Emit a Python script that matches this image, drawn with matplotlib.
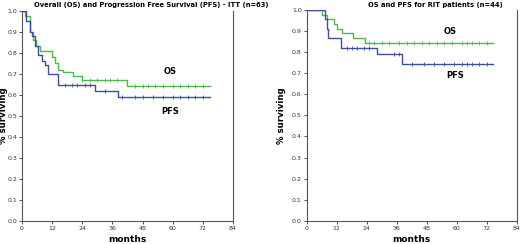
# km_panels.py
# Kaplan-Meier style step curves, OS vs PFS, two cohorts side by side

import numpy as np
import matplotlib.pyplot as plt

# --- ITT cohort (n=63) ---
itt_os_t = [0, 1.2, 3.2, 4.5, 5.5, 7.2, 12, 13, 14.3, 16.3, 20.3, 23.9, 41.8, 74.8]
itt_os_s = [1.0, 0.975, 0.90, 0.86, 0.83, 0.81, 0.78, 0.75, 0.72, 0.71, 0.69, 0.67, 0.64, 0.64]
itt_pfs_t = [0, 1.5, 3.0, 4.0, 5.2, 6.4, 8.0, 9.2, 10.4, 14.3, 29.0, 38.2, 74.8]
itt_pfs_s = [1.0, 0.95, 0.90, 0.88, 0.83, 0.79, 0.76, 0.74, 0.70, 0.645, 0.62, 0.59, 0.59]
itt_os_cens = [24, 27, 30, 33, 35, 38, 45, 48, 50, 53, 56, 60, 63, 66, 69, 72]
itt_pfs_cens = [17, 20, 22, 25, 27, 33, 40, 45, 48, 52, 56, 60, 63, 66, 69, 72]

# --- RIT cohort (n=44) ---
rit_os_t = [0, 6.0, 8.0, 11.0, 12.0, 14.0, 18.6, 23.3, 74.5]
rit_os_s = [1.0, 0.977, 0.955, 0.93, 0.91, 0.89, 0.865, 0.84, 0.84]
rit_pfs_t = [0, 7.3, 8.0, 8.6, 13.6, 28.0, 38.0, 74.5]
rit_pfs_s = [1.0, 0.955, 0.91, 0.865, 0.82, 0.79, 0.745, 0.745]
rit_os_cens = [25, 27, 30, 33, 37, 40, 43, 46, 49, 52, 55, 58, 62, 64, 66, 69, 72]
rit_pfs_cens = [16, 18, 20, 23, 25, 35, 37, 42, 47, 51, 55, 59, 62, 64, 66, 69, 72]

ticks_x = [0, 12, 24, 36, 48, 60, 72, 84]
ticks_y = [0.0, 0.1, 0.2, 0.3, 0.4, 0.5, 0.6, 0.7, 0.8, 0.9, 1.0]

green = '#4cbb4c'
blue = '#3d4ea0'


def step_val(t, s, x):
    i = np.searchsorted(t, x, side='right') - 1
    return s[i]


def panel(ax, os_t, os_s, pfs_t, pfs_s, os_c, pfs_c, ylab_x):
    ax.step(os_t, os_s, where='post', color=green, lw=1.0)
    ax.step(pfs_t, pfs_s, where='post', color=blue, lw=1.0)
    ax.plot(os_c, [step_val(os_t, os_s, c) for c in os_c], '|', color=green, ms=2.5, mew=0.6)
    ax.plot(pfs_c, [step_val(pfs_t, pfs_s, c) for c in pfs_c], '|', color=blue, ms=2.5, mew=0.6)
    ax.set_xlim(0, 84)
    ax.set_ylim(0, 1.0)
    ax.set_xticks(ticks_x)
    ax.set_yticks(ticks_y)
    ax.set_yticklabels(['%.1f' % v for v in ticks_y])
    ax.tick_params(labelsize=4.5, length=2, width=0.6, colors='#333333', pad=1.5)
    ax.spines['top'].set_visible(False)
    for sp in ['left', 'bottom', 'right']:
        ax.spines[sp].set_color('#555555')
        ax.spines[sp].set_linewidth(0.8)
    ax.set_xlabel('months', fontsize=6.5, fontweight='bold', labelpad=3)
    ax.set_ylabel('% surviving', fontsize=6.2, fontweight='bold')
    ax.yaxis.set_label_coords(ylab_x, 0.5)


fig = plt.figure(figsize=(5.2, 2.44), dpi=100)
ax1 = fig.add_axes([0.0423, 0.0943, 0.4058, 0.862])
ax2 = fig.add_axes([0.5898, 0.0943, 0.4038, 0.866])

panel(ax1, itt_os_t, itt_os_s, itt_pfs_t, itt_pfs_s, itt_os_cens, itt_pfs_cens, -0.068)
panel(ax2, rit_os_t, rit_os_s, rit_pfs_t, rit_pfs_s, rit_os_cens, rit_pfs_cens, -0.1)

ax1.text(59, 0.71, 'OS', fontsize=6, fontweight='bold', ha='center', va='center')
ax1.text(59, 0.52, 'PFS', fontsize=6, fontweight='bold', ha='center', va='center')
ax2.text(57.3, 0.895, 'OS', fontsize=6, fontweight='bold', ha='center', va='center')
ax2.text(59.3, 0.69, 'PFS', fontsize=6, fontweight='bold', ha='center', va='center')

fig.text(151 / 520, 1 - 5 / 244, 'Overall (OS) and Progression Free Survival (PFS) - ITT (n=63)',
         fontsize=4.9, fontweight='bold', ha='center', va='center')
fig.text(435 / 520, 1 - 5 / 244, 'OS and PFS for RIT patients (n=44)',
         fontsize=4.9, fontweight='bold', ha='center', va='center')

fig.savefig('out.png', dpi=100)
